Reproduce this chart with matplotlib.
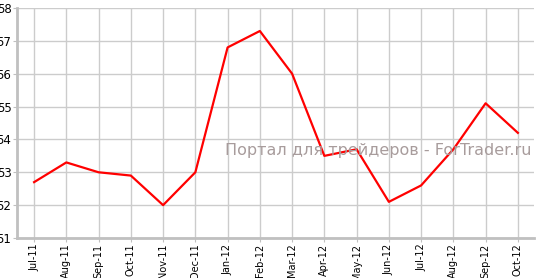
import matplotlib
matplotlib.use("Agg")
import matplotlib.pyplot as plt

months = ["Jul-11", "Aug-11", "Sep-11", "Oct-11", "Nov-11", "Dec-11", "Jan-12", "Feb-12",
          "Mar-12", "Apr-12", "May-12", "Jun-12", "Jul-12", "Aug-12", "Sep-12", "Oct-12"]
values = [52.7, 53.3, 53.0, 52.9, 52.0, 53.0, 56.8, 57.3,
          56.0, 53.5, 53.7, 52.1, 52.6, 53.7, 55.1, 54.2]
yticks = [51, 52, 53, 54, 55, 56, 57, 58]

fig = plt.figure(figsize=(5.39, 2.78), dpi=100)
ax = fig.add_axes([17 / 539, 1 - 238 / 278, 517 / 539, 230 / 278])
x = range(len(months))
ax.plot(x, values, color="#ff0000", lw=1.6, zorder=3)

ax.set_xlim(-0.53, len(months) - 0.5)
ax.set_ylim(51, 58)
ax.set_xticks(list(x))
ax.set_xticklabels(months, rotation=90, fontsize=7)
ax.set_yticks(yticks)
ax.set_yticklabels([str(v) for v in yticks], fontsize=8.5)
ax.grid(True, color="#cccccc", lw=1)
ax.set_axisbelow(True)
for s in ("top", "right"):
    ax.spines[s].set_visible(False)
for s in ("left", "bottom"):
    ax.spines[s].set_color("#c0c0c0")
    ax.spines[s].set_linewidth(2)
ax.tick_params(axis="both", color="#c0c0c0", length=3, pad=1)

ax.text(0.995, 0.38, "Портал для трейдеров - ForTrader.ru", transform=ax.transAxes,
        ha="right", va="center", fontsize=11.5, color="#a89c9c", zorder=4)

fig.savefig("out.png", dpi=100)
